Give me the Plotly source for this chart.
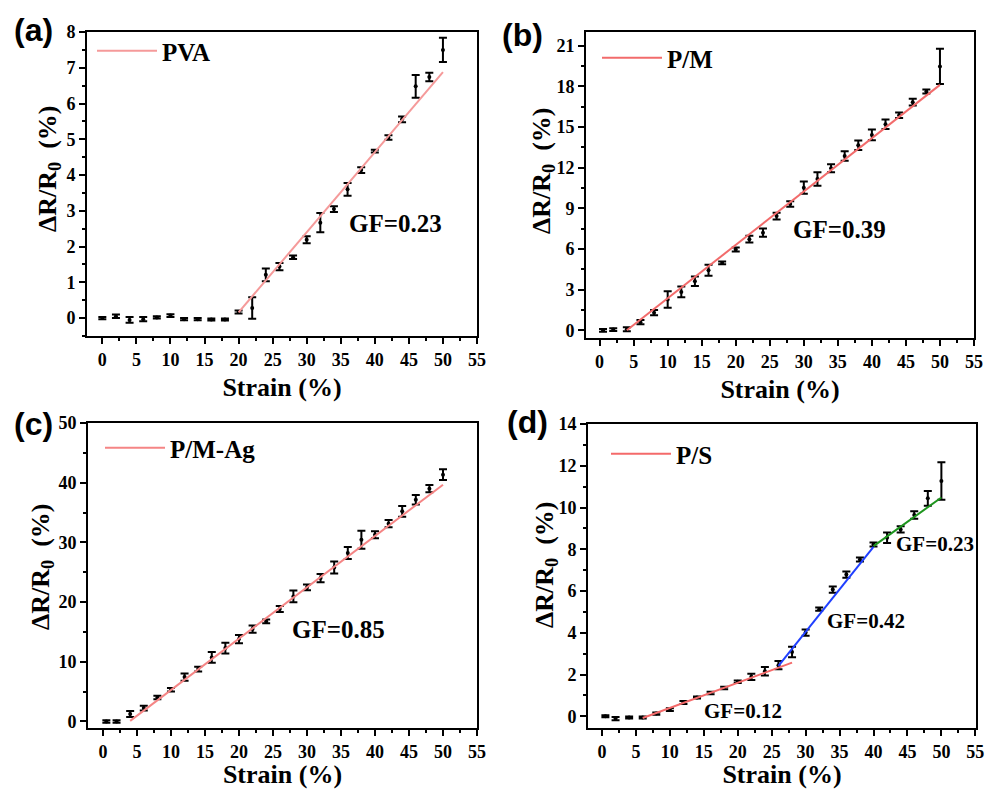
import plotly.graph_objects as go

# ---------------- data ----------------
strain_a = [0, 2, 4, 6, 8, 10, 12, 14, 16, 18, 20, 22, 24, 26, 28, 30, 32, 34, 36, 38, 40, 42, 44, 46, 48, 50]
resp_a = [0.0, 0.05, -0.05, -0.03, 0.02, 0.07, -0.03, -0.03, -0.04, -0.04, 0.17, 0.28, 1.21, 1.44, 1.70, 2.19,
          2.67, 3.05, 3.60, 4.14, 4.67, 5.05, 5.56, 6.48, 6.74, 7.50]
err_a = [0.03, 0.05, 0.08, 0.06, 0.03, 0.04, 0.03, 0.03, 0.03, 0.03, 0.04, 0.30, 0.18, 0.10, 0.05, 0.10,
         0.27, 0.08, 0.18, 0.08, 0.04, 0.06, 0.08, 0.32, 0.12, 0.34]
fit_a_x = [20, 50]
fit_a_y = [0.16, 6.88]

strain_bcd = [0.5, 2, 4, 6, 8, 10, 12, 14, 16, 18, 20, 22, 24, 26, 28, 30, 32, 34, 36, 38, 40, 42, 44, 46, 48, 50]
resp_b = [0.0, 0.05, 0.07, 0.60, 1.30, 2.27, 2.83, 3.62, 4.43, 4.97, 5.96, 6.72, 7.20, 8.42, 9.31, 10.52,
          11.16, 11.95, 12.86, 13.65, 14.41, 15.20, 15.86, 16.82, 17.61, 19.46]
err_b = [0.10, 0.10, 0.15, 0.15, 0.20, 0.60, 0.40, 0.35, 0.40, 0.10, 0.15, 0.25, 0.30, 0.25, 0.20, 0.45,
         0.50, 0.30, 0.35, 0.35, 0.40, 0.35, 0.20, 0.25, 0.15, 1.30]
fit_b_x = [4, 50]
fit_b_y = [0.0, 18.1]

resp_c = [0.0, 0.0, 1.23, 2.23, 4.02, 5.30, 7.43, 8.77, 10.73, 12.29, 13.80, 15.47, 16.76, 18.83, 20.95, 22.46,
          24.02, 25.80, 28.21, 30.45, 31.28, 33.13, 35.20, 37.15, 39.00, 41.34]
err_c = [0.2, 0.2, 0.5, 0.4, 0.3, 0.3, 0.6, 0.4, 0.9, 0.9, 0.7, 0.6, 0.3, 0.5, 1.0, 0.5,
         0.7, 1.0, 1.0, 1.5, 0.6, 0.6, 0.9, 0.8, 0.6, 0.9]
fit_c_x = [4, 50]
fit_c_y = [0.1, 39.66]

resp_d = [0.0, -0.11, -0.06, -0.06, 0.13, 0.32, 0.66, 0.90, 1.12, 1.36, 1.65, 1.89, 2.16, 2.45, 3.08, 4.01,
          5.13, 6.07, 6.79, 7.51, 8.23, 8.55, 8.95, 9.64, 10.44, 11.27]
err_d = [0.05, 0.08, 0.05, 0.05, 0.05, 0.07, 0.07, 0.05, 0.06, 0.06, 0.06, 0.15, 0.20, 0.20, 0.25, 0.15,
         0.08, 0.15, 0.15, 0.10, 0.10, 0.25, 0.15, 0.18, 0.35, 0.90]
fit_d1_x = [6, 28]
fit_d1_y = [-0.08, 2.57]
fit_d2_x = [26, 40]
fit_d2_y = [2.41, 8.12]
fit_d3_x = [40, 50]
fit_d3_y = [8.15, 10.48]

names = ["PVA", "P/M", "P/M-Ag", "P/S"]
panel_labels = ["(a)", "(b)", "(c)", "(d)"]
gf_text = ["GF=0.23", "GF=0.39", "GF=0.85", "GF=0.12", "GF=0.42", "GF=0.23"]
x_ticks = [0, 5, 10, 15, 20, 25, 30, 35, 40, 45, 50, 55]
x_title = "Strain (%)"
y_title = "\u0394R/R<sub>0</sub>  (%)"

# ---------------- style ----------------
W, H = 988, 789
SERIF = "Liberation Serif"
SANS = "Liberation Sans"
BLACK = "black"

fig = go.Figure()


def add_points(x, y, e, ax):
    fig.add_trace(go.Scatter(
        x=x, y=y, mode="markers", showlegend=False,
        marker=dict(color=BLACK, size=4),
        error_y=dict(type="data", array=e, color=BLACK, thickness=2, width=4),
        xaxis="x" + ax, yaxis="y" + ax, cliponaxis=False))


def add_fit(x, y, ax, color, name=None, legend=None):
    kw = dict(name=name, legend=legend) if name else dict(showlegend=False)
    fig.add_trace(go.Scatter(
        x=x, y=y, mode="lines", line=dict(color=color, width=2),
        xaxis="x" + ax, yaxis="y" + ax, **kw))


add_points(strain_a, resp_a, err_a, "")
add_fit(fit_a_x, fit_a_y, "", "#F59A9A", names[0], "legend")
add_points(strain_bcd, resp_b, err_b, "2")
add_fit(fit_b_x, fit_b_y, "2", "#F26B6B", names[1], "legend2")
add_points(strain_bcd, resp_c, err_c, "3")
add_fit(fit_c_x, fit_c_y, "3", "#F58585", names[2], "legend3")
add_points(strain_bcd, resp_d, err_d, "4")
add_fit(fit_d1_x, fit_d1_y, "4", "#F46A6A", names[3], "legend4")
add_fit(fit_d2_x, fit_d2_y, "4", "#1F3FFF")
add_fit(fit_d3_x, fit_d3_y, "4", "#1E951E")

# pixel frames of the four panels: (left, right, top, bottom)
frames = [(87, 477, 32, 336), (586, 974, 32, 338), (88, 477, 423, 728), (588, 976, 424, 728)]
xr = [[-2.25, 55], [-2.0, 55], [-2.2, 55], [-2.06, 55.1]]
yr = [[-0.5, 8], [-0.57, 22], [-1.1, 50], [-0.56, 14]]
ydt = [1, 3, 10, 2]

tickfont = dict(family=SERIF, size=18, color=BLACK, weight="bold")
titlefont = dict(family=SERIF, size=26, color=BLACK, weight="bold")

layout = dict(width=W, height=H, margin=dict(l=0, r=0, t=0, b=0),
              paper_bgcolor="white", plot_bgcolor="white", showlegend=True)

for i, (l, r, t, b) in enumerate(frames):
    sfx = "" if i == 0 else str(i + 1)
    common = dict(showline=True, mirror=True, linecolor=BLACK, linewidth=2,
                  ticks="outside", ticklen=6, tickwidth=2, tickcolor=BLACK,
                  showgrid=False, zeroline=False, tickfont=tickfont, automargin=False)
    layout["xaxis" + sfx] = dict(
        domain=[l / W, r / W], anchor="y" + sfx, range=xr[i],
        tickmode="array", tickvals=x_ticks,
        minor=dict(ticks="outside", ticklen=3, tickwidth=2, tickcolor=BLACK, dtick=2.5, tick0=0),
        title=dict(text=x_title, font=titlefont, standoff=9), **common)
    layout["yaxis" + sfx] = dict(
        domain=[1 - b / H, 1 - t / H], anchor="x" + sfx, range=yr[i],
        tick0=0, dtick=ydt[i],
        minor=dict(ticks="outside", ticklen=3, tickwidth=2, tickcolor=BLACK, dtick=ydt[i] / 2, tick0=0),
        **common)

# legends (one per panel)
leg_pos = [(92, 51), (597, 58), (100, 448), (606, 454)]
for i, (px, py) in enumerate(leg_pos):
    key = "legend" if i == 0 else "legend" + str(i + 1)
    layout[key] = dict(x=px / W, y=1 - py / H, xanchor="left", yanchor="middle",
                       bgcolor="rgba(0,0,0,0)", borderwidth=0, itemwidth=60,
                       font=dict(family=SERIF, size=25, color=BLACK, weight="bold"))

fig.update_layout(**layout)

# y-axis titles (rotated annotations, placed as in the reference)
ytitle_pos = [(49, 169), (543, 171), (42, 567), (546, 565)]
for px, py in ytitle_pos:
    fig.add_annotation(text=y_title, x=px / W, y=1 - py / H, xref="paper", yref="paper",
                       showarrow=False, textangle=-90, xanchor="center", yanchor="middle",
                       font=titlefont)

# GF annotations
gf_pos = [("", 43.1, 2.65, 25), ("2", 35.2, 7.4, 25), ("3", 34.7, 15.4, 25),
          ("4", 20.8, 0.26, 21), ("4", 38.9, 4.57, 21), ("4", 49.1, 8.23, 21)]
for txt, (ax, x, y, fs) in zip(gf_text, gf_pos):
    fig.add_annotation(text=txt, x=x, y=y, xref="x" + ax, yref="y" + ax, showarrow=False,
                       font=dict(family=SERIF, size=fs, color=BLACK, weight="bold"))

# panel labels
lab_pos = [(33, 30), (522, 35), (33, 424), (527, 422)]
for txt, (px, py) in zip(panel_labels, lab_pos):
    fig.add_annotation(text=txt, x=px / W, y=1 - py / H, xref="paper", yref="paper",
                       showarrow=False, xanchor="center", yanchor="middle",
                       font=dict(family=SANS, size=32, color=BLACK, weight="bold"))

fig.write_html("out.html", config={"displayModeBar": False},
               post_script="document.body.style.margin='0px';")
